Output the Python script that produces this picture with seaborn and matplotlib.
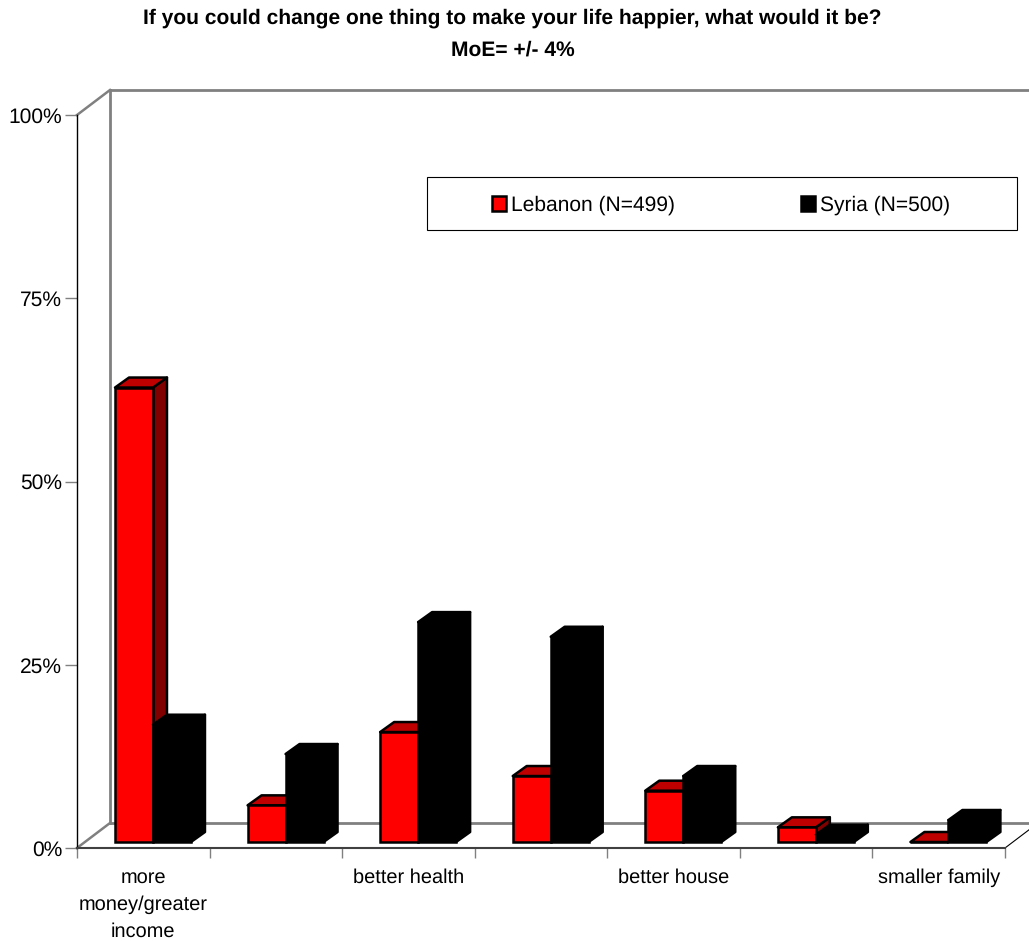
import matplotlib
matplotlib.use("Agg")
import matplotlib.pyplot as plt
import numpy as np
import pandas as pd
import seaborn as sns
from matplotlib.lines import Line2D
from matplotlib.patches import Patch, Polygon, Rectangle
from matplotlib.transforms import Affine2D, IdentityTransform

# Survey shares in percent, one value per answer slot
slots = [0, 1, 2, 3, 4, 5, 6]
lebanon = [62, 5, 15, 9, 7, 2, 0]
syria = [16, 12, 30, 28, 9, 1, 3]
tick_labels = ["more\nmoney/greater\nincome", "", "better health", "", "better house", "", "smaller family"]
series_names = ["Lebanon (N=499)", "Syria (N=500)"]
title_text = "If you could change one thing to make your life happier, what would it be?\nMoE= +/- 4%"
y_ticks = [0, 25, 50, 75, 100]

FONT = "Liberation Sans"
X_SIZE = 14.7
Y_SIZE = 15.3
LEGEND_SIZE = 15.3
TITLE_SIZE = 15.15
EDGE = 1.8
GREY = "#808080"
W, H = 1029, 941

sns.set_theme(style="white", rc={"font.family": FONT, "text.hinting": "none", "text.hinting_factor": 1})

df = pd.DataFrame({
    "slot": slots * 2,
    "share": lebanon + syria,
    "country": [series_names[0]] * 7 + [series_names[1]] * 7,
})

fig = plt.figure(figsize=(W / 100, H / 100), dpi=100, facecolor="white")
ax = fig.add_axes([77 / W, 1 - 848 / H, 928 / W, 733 / H])
ax.patch.set_alpha(0)

sns.barplot(
    data=df, x="slot", y="share", hue="country", order=slots, hue_order=series_names,
    palette={series_names[0]: "#FF0000", series_names[1]: "#000000"},
    width=0.573, gap=0, saturation=1, edgecolor="black", linewidth=EDGE,
    errorbar=None, legend=False, ax=ax,
)
ax.set_xlim(-0.5, 6.5)
ax.set_ylim(0, 100)
ax.set_xlabel("")
ax.set_ylabel("")

# Axis ticks: marks on category boundaries, labels on category centres
ax.set_xticks(np.arange(-0.5, 7, 1), labels=[""] * 8)
ax.set_xticks(slots, labels=tick_labels, minor=True)
ax.set_yticks(y_ticks, labels=[f"{v}%" for v in y_ticks])
ax.tick_params(axis="x", which="major", length=7.5, width=1, color=GREY, bottom=True)
ax.tick_params(axis="x", which="minor", length=0, pad=14.5, labelsize=X_SIZE, labelcolor="black")
ax.tick_params(axis="y", length=8.6, width=1, color=GREY, left=True, pad=2,
               labelsize=Y_SIZE, labelcolor="black")
for lab in ax.get_xticklabels(minor=True):
    lab.set_linespacing(1.58)
    lab.set_fontfamily(FONT)

for side in ("top", "right"):
    ax.spines[side].set_visible(False)
ax.spines["left"].set_color("black")
ax.spines["left"].set_linewidth(1)
ax.spines["bottom"].set_color("#404040")
ax.spines["bottom"].set_linewidth(1.5)

# Room depth in pixels for the pseudo-3D back wall and floor
WALL_DX, WALL_DY = 33, 25
identity = IdentityTransform()
(x0, y0), (x1, y1) = ax.transAxes.transform([(0, 0), (1, 1)])


def wall(xs, ys, color=GREY, lw=2.0):
    ax.add_line(Line2D(xs, ys, transform=identity, color=color, lw=lw, clip_on=False,
                       zorder=1, solid_capstyle="projecting"))


wall([x0 + WALL_DX] * 2, [y0 + WALL_DY, y1 + WALL_DY])
wall([x0 + WALL_DX, x1 + WALL_DX], [y1 + WALL_DY] * 2)
wall([x0 + WALL_DX, x1 + WALL_DX], [y0 + WALL_DY] * 2)
wall([x0, x0 + WALL_DX], [y1, y1 + WALL_DY], lw=1.8)
wall([x0, x0 + WALL_DX], [y0, y0 + WALL_DY], lw=1.8)
wall([x1, x1 + WALL_DX], [y0, y0 + WALL_DY], color="black", lw=0.8)

# Bars sit slightly inside the floor and get a top and a side face
BAR_SHIFT = (9.7, 6.0)
DEPTH_DX, DEPTH_DY = 14, 10
face_colors = {
    series_names[0]: ("#BF0000", "#800000"),
    series_names[1]: ("#000000", "#000000"),
}
base_px = ax.transData.transform((0, 0))[1] + BAR_SHIFT[1]
z = 3

for slot in slots:
    for container, name in zip(ax.containers, series_names):
        bar = container[slot]
        top_color, side_color = face_colors[name]
        left, _ = ax.transData.transform((bar.get_x(), 0))
        right, _ = ax.transData.transform((bar.get_x() + bar.get_width(), 0))
        _, rise = ax.transData.transform((0, bar.get_height()))
        rise -= ax.transData.transform((0, 0))[1]
        lft, rgt = left + BAR_SHIFT[0], right + BAR_SHIFT[0]
        low, high = base_px, base_px + rise
        side = [(rgt, low), (rgt + DEPTH_DX, low + DEPTH_DY),
                (rgt + DEPTH_DX, high + DEPTH_DY), (rgt, high)]
        top = [(lft, high), (rgt, high), (rgt + DEPTH_DX, high + DEPTH_DY),
               (lft + DEPTH_DX, high + DEPTH_DY)]
        for pts, color in ((side, side_color), (top, top_color)):
            ax.add_patch(Polygon(pts, closed=True, transform=identity, facecolor=color,
                                 edgecolor="black", linewidth=EDGE, joinstyle="round",
                                 clip_on=False, zorder=z))
        bar.set_transform(ax.transData + Affine2D().translate(BAR_SHIFT[0], BAR_SHIFT[1]))
        bar.set_clip_on(False)
        bar.set_zorder(z + 0.5)
        z += 1

# Legend box with the two series entries
box_left, box_top, box_w, box_h = 426.5, 177.5, 590, 52.5
fig.add_artist(Rectangle((box_left / W, 1 - (box_top + box_h) / H), box_w / W, box_h / H,
                         transform=fig.transFigure, facecolor="white", edgecolor="black",
                         linewidth=0.8, zorder=5))
handles = [Patch(facecolor="#FF0000", edgecolor="black", linewidth=EDGE),
           Patch(facecolor="#000000", edgecolor="black", linewidth=EDGE)]
leg = fig.legend(handles, series_names, ncols=2, frameon=False, fontsize=LEGEND_SIZE,
                 loc="center", bbox_to_anchor=(721 / W, 1 - 205.5 / H),
                 handlelength=0.66, handleheight=0.66, handletextpad=0.235, columnspacing=5.93,
                 borderpad=0, borderaxespad=0)
leg.set_zorder(6)
for t in leg.get_texts():
    t.set_color("black")

fig.text(512.5 / W, 1 - 34 / H, title_text, ha="center", va="center", fontweight="bold",
         fontsize=TITLE_SIZE, color="black", linespacing=1.8, family=FONT)

fig.savefig("out.png", dpi=100, facecolor="white")
